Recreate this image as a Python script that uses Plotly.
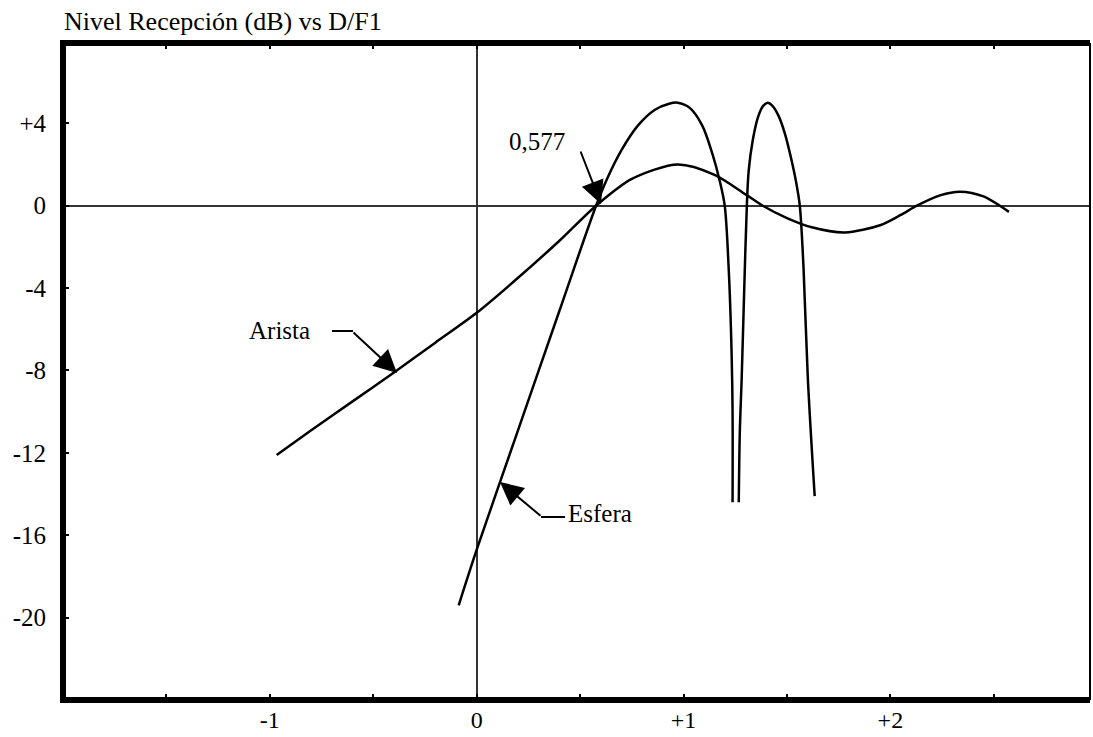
import plotly.graph_objects as go

# ---- data ----
arista_x = [-0.967, -0.8, -0.6, -0.4, -0.2, 0.0, 0.2, 0.4, 0.577, 0.75, 0.972, 1.15, 1.3, 1.383,
            1.5, 1.62, 1.78, 1.95, 2.05, 2.128, 2.24, 2.336, 2.45, 2.573]
arista_y = [-12.1, -10.9, -9.5, -8.1, -6.65, -5.2, -3.5, -1.7, 0.0, 1.3, 2.0, 1.5, 0.55, 0.0,
            -0.6, -1.05, -1.3, -0.95, -0.45, 0.0, 0.5, 0.68, 0.45, -0.3]

esfera_x = [-0.087, 0.0, 0.2, 0.4, 0.577, 0.63, 0.7, 0.78, 0.86, 0.93, 0.972, 1.03, 1.09, 1.14, 1.175, 1.199,
            1.218, 1.232, 1.237, 1.237, None,
            1.267, 1.272, 1.281, 1.295, 1.306, 1.315, 1.335, 1.36, 1.385, 1.407, 1.43, 1.46, 1.49, 1.52, 1.545,
            1.562, 1.58, 1.601, 1.634]
esfera_y = [-19.4, -16.7, -10.9, -5.1, 0.0, 1.3, 2.7, 3.9, 4.65, 4.95, 5.0, 4.75, 3.9, 2.5, 1.2, 0.0,
            -3.0, -7.0, -10.0, -14.4, None,
            -14.4, -11.0, -8.4, -3.5, 0.0, 1.7, 3.2, 4.3, 4.85, 5.0, 4.85, 4.35, 3.5, 2.3, 1.1,
            0.0, -3.0, -8.4, -14.1]

x_tickvals = [-1.5, -1, -0.5, 0, 0.5, 1, 1.5, 2, 2.5]
x_ticktext = ["", "-1", "", "0", "", "+1", "", "+2", ""]
y_tickvals = [-20, -16, -12, -8, -4, 0, 4]
y_ticktext = ["-20", "-16", "-12", "-8", "-4", "0", "+4"]

FONT = "Liberation Serif"
W, H = 1093, 737
ML, MR, MT, MB = 63, 3, 43, 37
XR = [-2.0, 2.965]
YR = [-24.0, 7.9]

fig = go.Figure()
fig.add_trace(go.Scatter(x=arista_x, y=arista_y, mode="lines",
                         line=dict(color="black", width=2.5, shape="spline", smoothing=0.8),
                         showlegend=False, hoverinfo="skip"))
fig.add_trace(go.Scatter(x=esfera_x, y=esfera_y, mode="lines",
                         line=dict(color="black", width=2.5, shape="spline", smoothing=0.9),
                         showlegend=False, hoverinfo="skip", connectgaps=False))

pw = W - ML - MR
ph = H - MT - MB
ex = 3.0 / pw
ey = 3.0 / ph
shapes = [
    dict(type="line", xref="paper", yref="paper", x0=0, x1=0, y0=-ey, y1=1 + ey,
         line=dict(color="black", width=6), layer="above"),
    dict(type="line", xref="paper", yref="paper", x0=-ex, x1=1, y0=1, y1=1,
         line=dict(color="black", width=6), layer="above"),
    dict(type="line", xref="paper", yref="paper", x0=-ex, x1=1, y0=0, y1=0,
         line=dict(color="black", width=6), layer="above"),
    dict(type="line", xref="paper", yref="paper", x0=1, x1=1, y0=0, y1=1,
         line=dict(color="black", width=2), layer="above"),
]

def px2x(p):
    return XR[0] + (p - ML) / pw * (XR[1] - XR[0])

def px2y(p):
    return YR[1] - (p - MT) / ph * (YR[1] - YR[0])

# elbow segments of the callouts
shapes.append(dict(type="line", xref="x", yref="y", x0=px2x(332), x1=px2x(353), y0=px2y(331), y1=px2y(331),
                   line=dict(color="black", width=2)))
shapes.append(dict(type="line", xref="x", yref="y", x0=px2x(541), x1=px2x(565), y0=px2y(517), y1=px2y(517),
                   line=dict(color="black", width=2)))
fig.update_layout(shapes=shapes)

AH = dict(showarrow=True, arrowhead=2, arrowsize=2.3, arrowwidth=2, arrowcolor="black", text="")
annots = [
    dict(x=px2x(601), y=px2y(204), xref="x", yref="y", ax=-21, ay=-54, **AH),
    dict(x=px2x(397), y=px2y(373), xref="x", yref="y", ax=-45, ay=-42, **AH),
    dict(x=px2x(500), y=px2y(482), xref="x", yref="y", ax=42, ay=35, **AH),
    dict(x=px2x(537), y=px2y(141), xref="x", yref="y", text="0,577", showarrow=False,
         font=dict(family=FONT, size=25, color="black")),
    dict(x=px2x(279), y=px2y(330), xref="x", yref="y", text="Arista", showarrow=False,
         font=dict(family=FONT, size=25, color="black")),
    dict(x=px2x(600), y=px2y(513), xref="x", yref="y", text="Esfera", showarrow=False,
         font=dict(family=FONT, size=25, color="black")),
]
fig.update_layout(annotations=annots)

fig.update_layout(
    width=W, height=H,
    margin=dict(l=ML, r=MR, t=MT, b=MB, pad=0, autoexpand=False),
    paper_bgcolor="white", plot_bgcolor="white",
    title=dict(text="Nivel Recepción (dB) vs D/F1", xref="container", yref="container",
               x=64 / W, xanchor="left", y=1 - 21 / H, yanchor="middle",
               font=dict(family=FONT, size=26, color="black")),
    xaxis=dict(range=XR, showgrid=False, zeroline=True, zerolinecolor="#333", zerolinewidth=2,
               tickmode="array", tickvals=x_tickvals, ticktext=x_ticktext,
               ticks="inside", ticklen=6, tickwidth=2, tickcolor="black", mirror="ticks",
               showline=False, ticklabelstandoff=3, automargin=False,
               tickfont=dict(family=FONT, size=24, color="black")),
    yaxis=dict(range=YR, showgrid=False, zeroline=True, zerolinecolor="#333", zerolinewidth=2,
               tickmode="array", tickvals=y_tickvals, ticktext=y_ticktext,
               ticks="inside", ticklen=6, tickwidth=2, tickcolor="black",
               showline=False, ticklabelstandoff=16, automargin=False,
               tickfont=dict(family=FONT, size=25, color="black")),
)

fig.write_html("out.html", config={"displayModeBar": False},
               post_script="document.body.style.margin='0';document.body.style.overflow='hidden';")
